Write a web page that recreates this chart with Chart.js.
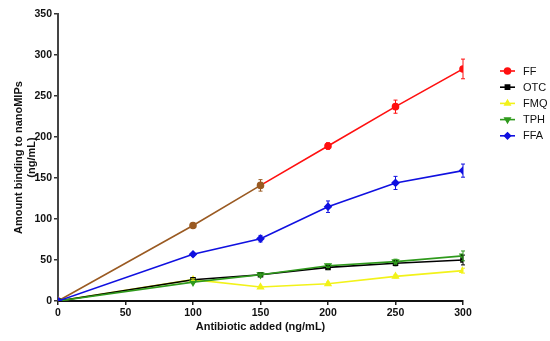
<!DOCTYPE html>
<html>
<head>
<meta charset="utf-8">
<script src="https://cdn.jsdelivr.net/npm/chart.js@4"></script>
<style>
html,body{margin:0;padding:0;background:#fff;}
#wrap{width:550px;height:341px;}
</style>
</head>
<body>
<div id="wrap"><canvas id="c" width="550" height="341"></canvas></div>
<script>
const xValues = [0, 100, 150, 200, 250, 300];
const seriesNames = ['FF', 'OTC', 'FMQ', 'TPH', 'FFA'];
const ffValues  = [0, 92, 141, 189, 237, 283];
const ffErr     = [0, 2, 7, 4, 8, 12];
const otcValues = [0, 26, 32, 41, 46, 50];
const otcErr    = [0, 1, 2, 2, 3, 6];
const fmqValues = [0, 26, 17, 21, 30, 37];
const fmqErr    = [0, 1, 1, 2, 2, 3];
const tphValues = [0, 23, 32, 43, 48, 55];
const tphErr    = [0, 1, 2, 2, 3, 6];
const ffaValues = [0, 57, 76, 115, 144, 159];
const ffaErr    = [0, 2, 4, 7, 8, 8];
const yTicks = [0, 50, 100, 150, 200, 250, 300, 350];
const xTicks = [0, 50, 100, 150, 200, 250, 300];

const pts = (vals) => xValues.map((x, i) => ({x: x, y: vals[i]}));
const BROWN = '#9a5a22';

const datasets = [
  {label: seriesNames[0], data: pts(ffValues), err: ffErr, borderColor: '#ff1010',
   pointStyle: 'circle', pointRadius: 3,
   pointBackgroundColor: ['#ff1010', BROWN, BROWN, '#ff1010', '#ff1010', '#ff1010'],
   pointBorderColor: ['#ff1010', BROWN, BROWN, '#ff1010', '#ff1010', '#ff1010'],
   segment: {borderColor: c => c.p0DataIndex < 2 ? BROWN : '#ff1010'}},
  {label: seriesNames[1], data: pts(otcValues), err: otcErr, borderColor: '#000000',
   pointStyle: 'rect', pointRadius: 2.8},
  {label: seriesNames[2], data: pts(fmqValues), err: fmqErr, borderColor: '#f2f21a',
   pointStyle: 'triangle', pointRadius: 3.2},
  {label: seriesNames[3], data: pts(tphValues), err: tphErr, borderColor: '#2f9a1c',
   pointStyle: 'triangle', pointRotation: 180, pointRadius: 3.2},
  {label: seriesNames[4], data: pts(ffaValues), err: ffaErr, borderColor: '#1010e0',
   pointStyle: 'rectRot', pointRadius: 3.2}
];
datasets.forEach(d => {
  d.borderWidth = 1.6;
  if (!d.pointBackgroundColor) { d.pointBackgroundColor = d.borderColor; d.pointBorderColor = d.borderColor; }
  d.tension = 0;
  d.legendColor = d.label === 'FF' ? '#ff1010' : d.borderColor;
});
datasets[0].order = 5; datasets[1].order = 3; datasets[2].order = 4; datasets[3].order = 2; datasets[4].order = 1;

const errorBars = {
  id: 'errorBars',
  afterDatasetsDraw(chart) {
    const ctx = chart.ctx;
    const xs = chart.scales.x, ys = chart.scales.y;
    chart.data.datasets.forEach((d) => {
      d.data.forEach((p, i) => {
        const e = d.err[i];
        if (!e) return;
        const px = xs.getPixelForValue(p.x);
        const top = ys.getPixelForValue(p.y + e), bot = ys.getPixelForValue(p.y - e);
        const col = (d.label === 'FF' && (i === 1 || i === 2)) ? BROWN : d.legendColor;
        ctx.save();
        ctx.strokeStyle = col; ctx.lineWidth = 1;
        ctx.beginPath();
        ctx.moveTo(px, top); ctx.lineTo(px, bot);
        ctx.moveTo(px - 2, top); ctx.lineTo(px + 2, top);
        ctx.moveTo(px - 2, bot); ctx.lineTo(px + 2, bot);
        ctx.stroke();
        ctx.restore();
      });
    });
  }
};

const customLegend = {
  id: 'customLegend',
  afterDraw(chart) {
    const ctx = chart.ctx;
    const x0 = 500, x1 = 515, tx = 523;
    let y = 71;
    chart.data.datasets.forEach((d) => {
      ctx.save();
      ctx.strokeStyle = d.legendColor; ctx.lineWidth = 1.6;
      ctx.beginPath(); ctx.moveTo(x0, y); ctx.lineTo(x1, y); ctx.stroke();
      Chart.helpers.drawPoint(ctx, {pointStyle: d.pointStyle, radius: 3, rotation: d.pointRotation || 0, borderWidth: 1},
        (x0 + x1) / 2, y);
      ctx.fillStyle = d.legendColor;
      ctx.fill();
      ctx.fillStyle = '#111';
      ctx.font = '11px "Liberation Sans", Arial, sans-serif';
      ctx.textBaseline = 'middle';
      ctx.fillText(d.label, tx, y + 0.5);
      ctx.restore();
      y += 16.2;
    });
  }
};

const tickFont = {family: '"Liberation Sans", Arial, sans-serif', size: 10.5, weight: 'bold'};
const titleFont = {family: '"Liberation Sans", Arial, sans-serif', size: 11, weight: 'bold'};

new Chart(document.getElementById('c'), {
  type: 'line',
  data: {datasets: datasets},
  options: {
    responsive: false,
    animation: false,
    devicePixelRatio: 1,
    layout: {padding: {left: 12, right: 87, top: 14, bottom: 7}},
    plugins: {legend: {display: false}, tooltip: {enabled: false}},
    scales: {
      x: {
        type: 'linear', min: 0, max: 300,
        afterBuildTicks: s => { s.ticks = xTicks.map(v => ({value: v})); },
        afterFit: s => { s.height = 33; },
        grid: {display: true, drawOnChartArea: false, drawTicks: true, tickLength: 4, color: '#222', lineWidth: 1.5},
        border: {display: true, color: '#111', width: 2},
        ticks: {color: '#111', font: tickFont, padding: 2, maxRotation: 0},
        title: {display: true, text: 'Antibiotic added (ng/mL)', color: '#111', font: titleFont, padding: {top: 0, bottom: 0}}
      },
      y: {
        type: 'linear', min: 0, max: 350,
        afterBuildTicks: s => { s.ticks = yTicks.map(v => ({value: v})); },
        afterFit: s => { s.width = 46; },
        grid: {display: true, drawOnChartArea: false, drawTicks: true, tickLength: 4, color: '#333', lineWidth: 1.5},
        border: {display: true, color: '#444', width: 2},
        ticks: {color: '#111', font: tickFont, padding: 2},
        title: {display: true, text: ['Amount binding to nanoMIPs', '(ng/mL)'], color: '#111', font: titleFont, padding: {top: 0, bottom: 0}}
      }
    }
  },
  plugins: [errorBars, customLegend]
});
</script>
</body>
</html>
